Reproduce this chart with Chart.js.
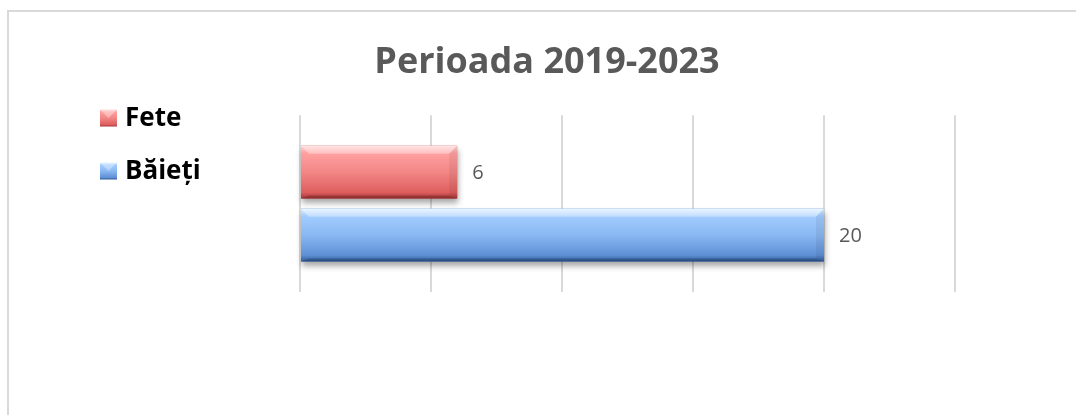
<!DOCTYPE html>
<html>
<head>
<meta charset="utf-8">
<script src="https://cdn.jsdelivr.net/npm/chart.js@4/dist/chart.umd.min.js"></script>
<style>
    html, body { margin: 0; padding: 0; background: #fff; overflow: hidden; }
    #frame {
        position: absolute;
        left: 7px;
        top: 10px;
        width: 1200px;
        height: 600px;
        border: 2px solid #d9d9d9;
    }
    #chart { position: absolute; left: 0; top: 0; }
</style>
</head>
<body>
<div id="frame">
    <canvas id="chart" width="1076" height="403"></canvas>
</div>
<script>
const TITLE = 'Perioada 2019-2023';
const CATEGORIES = [''];
const SERIES = ['Fete', 'Băieți'];
const FETE = [6];
const BAIETI = [20];
const X_MIN = 0;
const X_MAX = 25;
const X_STEP = 5;

// gradient stops for the bevelled Excel look
const SHADES = {
    'Fete': ['#ffd6d6', '#ffa0a0', '#f38686', '#de5f5f', '#a63535'],
    'Băieți': ['#e2f2ff', '#a2ccff', '#8ab8f2', '#5f90d6', '#2f5a96'],
};

function barGradient(ctx, top, bottom, stops) {
    const g = ctx.createLinearGradient(0, top, 0, bottom);
    g.addColorStop(0, stops[0]);
    g.addColorStop(0.14, stops[1]);
    g.addColorStop(0.5, stops[2]);
    g.addColorStop(0.88, stops[3]);
    g.addColorStop(1, stops[4]);
    return g;
}

const bevelPlugin = {
    id: 'bevel',
    beforeDatasetsDraw(chart) {
        const ctx = chart.ctx;
        chart.data.datasets.forEach((ds, i) => {
            chart.getDatasetMeta(i).data.forEach(bar => {
                const top = bar.y - bar.height / 2;
                const bottom = bar.y + bar.height / 2;
                const left = Math.min(bar.base, bar.x);
                const w = Math.abs(bar.x - bar.base);
                bar.options.backgroundColor = barGradient(ctx, top, bottom, SHADES[ds.label]);
                ctx.save();
                ctx.shadowColor = 'rgba(0,0,0,0.35)';
                ctx.shadowBlur = 6;
                ctx.shadowOffsetY = 4;
                ctx.shadowOffsetX = 1;
                ctx.fillStyle = SHADES[ds.label][3];
                ctx.fillRect(left, top, w, bottom - top);
                ctx.restore();
            });
        });
    },
    afterDatasetsDraw(chart) {
        const ctx = chart.ctx;
        chart.data.datasets.forEach((ds, i) => {
            chart.getDatasetMeta(i).data.forEach((bar, j) => {
                const top = bar.y - bar.height / 2;
                const bottom = bar.y + bar.height / 2;
                const left = Math.min(bar.base, bar.x);
                const right = Math.max(bar.base, bar.x);
                const b = 8;
                ctx.save();
                // top bevel
                ctx.fillStyle = 'rgba(255,255,255,0.35)';
                ctx.beginPath();
                ctx.moveTo(left, top);
                ctx.lineTo(right, top);
                ctx.lineTo(right - b, top + b);
                ctx.lineTo(left + b, top + b);
                ctx.closePath();
                ctx.fill();
                // right bevel
                ctx.fillStyle = 'rgba(0,0,0,0.06)';
                ctx.beginPath();
                ctx.moveTo(right, top);
                ctx.lineTo(right, bottom);
                ctx.lineTo(right - b, bottom - 3);
                ctx.lineTo(right - b, top + b);
                ctx.closePath();
                ctx.fill();
                // bottom bevel
                ctx.fillStyle = 'rgba(0,0,0,0.18)';
                ctx.beginPath();
                ctx.moveTo(left, bottom);
                ctx.lineTo(right, bottom);
                ctx.lineTo(right - b, bottom - 3);
                ctx.lineTo(left + b, bottom - 3);
                ctx.closePath();
                ctx.fill();
                // value label
                ctx.fillStyle = '#595959';
                ctx.font = '20px "Open Sans"';
                ctx.textAlign = 'left';
                ctx.textBaseline = 'middle';
                ctx.fillText(String(ds.data[j]), right + 15, bar.y + 1);
                ctx.restore();
            });
        });
    }
};

const legendPlugin = {
    id: 'sideLegend',
    afterDraw(chart) {
        const ctx = chart.ctx;
        const x0 = 91;
        const y0 = 106;
        const step = 53;
        const size = 17;
        ctx.save();
        chart.data.datasets.forEach((ds, i) => {
            const cy = y0 + i * step;
            const top = cy - size / 2;
            ctx.fillStyle = barGradient(ctx, top, top + size, SHADES[ds.label]);
            ctx.fillRect(x0, top, size, size);
            ctx.fillStyle = 'rgba(255,255,255,0.35)';
            ctx.beginPath();
            ctx.moveTo(x0, top);
            ctx.lineTo(x0 + size, top);
            ctx.lineTo(x0 + size / 2, top + size / 2);
            ctx.closePath();
            ctx.fill();
            ctx.fillStyle = '#000';
            ctx.font = 'bold 26px "Open Sans"';
            ctx.textAlign = 'left';
            ctx.textBaseline = 'middle';
            ctx.fillText(ds.label, x0 + size + 8, cy + 1);
        });
        ctx.restore();
    }
};

new Chart(document.getElementById('chart'), {
    type: 'bar',
    data: {
        labels: CATEGORIES,
        datasets: [
            { label: SERIES[0], data: FETE, backgroundColor: '#e06060' },
            { label: SERIES[1], data: BAIETI, backgroundColor: '#6a9ae0' },
        ]
    },
    options: {
        indexAxis: 'y',
        responsive: false,
        animation: false,
        layout: { padding: { left: 0, right: 0, top: 0, bottom: 123 } },
        datasets: {
            bar: { categoryPercentage: 0.712, barPercentage: 0.84 }
        },
        scales: {
            x: {
                min: X_MIN,
                max: X_MAX,
                ticks: { display: false, stepSize: X_STEP },
                grid: { color: '#d9d9d9', lineWidth: 2, drawTicks: false },
                border: { display: false },
            },
            y: {
                ticks: { display: false },
                grid: { display: false },
                border: { display: false },
                afterFit: s => { s.width = 291; },
            },
            y2: {
                type: 'linear',
                position: 'right',
                ticks: { display: false },
                grid: { display: false },
                border: { display: false },
                afterFit: s => { s.width = 130; },
            },
        },
        plugins: {
            legend: { display: false },
            tooltip: { enabled: false },
            title: {
                display: true,
                text: TITLE,
                color: '#595959',
                font: { family: 'Open Sans', size: 36, weight: 'bold' },
                padding: { top: 29, bottom: 31 },
            },
        }
    },
    plugins: [bevelPlugin, legendPlugin]
});
</script>
</body>
</html>
